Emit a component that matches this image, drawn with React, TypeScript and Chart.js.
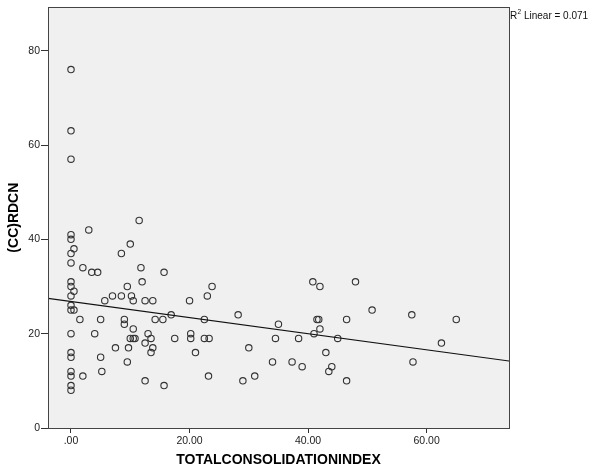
import React, { useEffect, useRef } from 'react';
import { Chart, registerables } from 'chart.js';

Chart.register(...registerables);

// TOTALCONSOLIDATIONINDEX (x) values
const consolidationIndex: number[] = [
  0, 0, 0, 0, 0, 0, 0, 0, 0, 0, 0, 0, 0, 0, 0, 0, 0, 0, 0,
  0.5, 0.5, 0.5,
  3, 11.5, 10, 8.5, 2, 3.5, 4.5, 11.8, 15.7, 12,
  9.5, 7, 8.5, 10.2, 5.7, 10.5, 12.5, 13.8, 20, 16.9,
  1.5, 5, 9, 9, 14.2, 15.5, 10.5, 4, 13, 10,
  10.5, 10.8, 13.5, 17.5, 20.2, 20.2, 12.5, 7.5, 9.7, 13.8,
  13.5, 5, 9.5, 5.2, 2, 12.5, 15.7,
  23.8, 23, 22.5, 28.2, 22.5, 23.3, 21, 30, 23.2, 29,
  31, 35, 34.5, 38.4, 34, 37.3, 39, 40.8, 42, 41,
  41.5, 41.8, 42,
  48, 46.5, 50.8, 57.5, 45, 43, 44, 43.5, 46.5, 57.7, 62.5, 65,
];

// (CC)RDCN (y) values
const rdcn: number[] = [
  76, 63, 57, 41, 40, 37, 35, 31, 30, 28, 26, 25, 20, 16, 15, 12, 11, 9, 8,
  38, 29, 25,
  42, 44, 39, 37, 34, 33, 33, 34, 33, 31,
  30, 28, 28, 28, 27, 27, 27, 27, 27, 24,
  23, 23, 23, 22, 23, 23, 21, 20, 20, 19,
  19, 19, 19, 19, 20, 19, 18, 17, 17, 17,
  16, 15, 14, 12, 11, 10, 9,
  30, 28, 23, 24, 19, 19, 16, 17, 11, 10,
  11, 22, 19, 19, 14, 14, 13, 31, 30, 20,
  23, 23, 21,
  31, 23, 25, 24, 19, 16, 13, 12, 10, 14, 18, 23,
];

// Linear fit line end points
const fitX: number[] = [-3.88, 73.9];
const fitY: number[] = [27.5, 14.2];
const r2Label = 'Linear = 0.071';

const xRange: number[] = [-3.88, 73.9];
const yRange: number[] = [0, 89.2];
const xTicks: number[] = [0, 20, 40, 60];
const xTickLabels: string[] = ['.00', '20.00', '40.00', '60.00'];
const yTicks: number[] = [0, 20, 40, 60, 80];
const yTickLabels: string[] = ['0', '20', '40', '60', '80'];

const FONT = '"Liberation Sans", Arial, Helvetica, sans-serif';

const framePlugin = {
  id: 'spssFrame',
  beforeDraw(chart: any) {
    const { ctx, chartArea } = chart;
    ctx.save();
    ctx.fillStyle = '#ffffff';
    ctx.fillRect(0, 0, chart.width, chart.height);
    ctx.fillStyle = '#f0f0f0';
    ctx.fillRect(chartArea.left, chartArea.top, chartArea.right - chartArea.left, chartArea.bottom - chartArea.top);
    ctx.restore();
  },
  afterDraw(chart: any) {
    const { ctx, chartArea } = chart;
    ctx.save();
    ctx.strokeStyle = '#444444';
    ctx.lineWidth = 1;
    const l = Math.round(chartArea.left) + 0.5;
    const t = Math.round(chartArea.top) + 0.5;
    const r = Math.round(chartArea.right) + 0.5;
    const b = Math.round(chartArea.bottom) + 0.5;
    ctx.strokeRect(l, t, r - l, b - t);
    // R² label
    ctx.fillStyle = '#111111';
    ctx.textBaseline = 'alphabetic';
    ctx.textAlign = 'left';
    let x = r + 0.5;
    const base = 18.5;
    ctx.font = `10px ${FONT}`;
    ctx.fillText('R', x, base);
    x += ctx.measureText('R').width;
    ctx.font = `6.5px ${FONT}`;
    ctx.fillText('2', x + 0.3, base - 4.5);
    x += ctx.measureText('2').width + 0.3;
    ctx.font = `10px ${FONT}`;
    ctx.fillText(' ' + r2Label, x, base);
    ctx.restore();
  },
};

export default function App() {
  const ref = useRef<HTMLCanvasElement>(null);

  useEffect(() => {
    const canvas = ref.current;
    if (!canvas) return;
    const points = consolidationIndex.map((x, i) => ({ x, y: rdcn[i] }));
    const fit = fitX.map((x, i) => ({ x, y: fitY[i] }));
    const chart = new Chart(canvas, {
      type: 'scatter',
      data: {
        datasets: [
          {
            type: 'line',
            data: fit,
            borderColor: '#111111',
            borderWidth: 1.2,
            pointRadius: 0,
            fill: false,
            tension: 0,
          } as any,
          {
            type: 'scatter',
            data: points,
            pointRadius: 3.2,
            pointHoverRadius: 3.2,
            borderWidth: 1.1,
            borderColor: '#333333',
            backgroundColor: 'rgba(0,0,0,0)',
          } as any,
        ],
      },
      options: {
        animation: false,
        responsive: false,
        events: [],
        layout: { padding: { top: 7, right: 81, left: 0, bottom: 0 } },
        plugins: { legend: { display: false }, tooltip: { enabled: false } },
        scales: {
          x: {
            type: 'linear',
            min: xRange[0],
            max: xRange[1],
            afterBuildTicks: (s: any) => {
              s.ticks = xTicks.map((v) => ({ value: v }));
            },
            afterFit: (s: any) => {
              s.height = 44;
            },
            grid: { display: true, drawOnChartArea: false, drawTicks: true, tickLength: 5, color: '#333333', lineWidth: 1 },
            border: { display: false },
            ticks: {
              padding: 2,
              color: '#222222',
              autoSkip: false,
              maxRotation: 0,
              font: { family: FONT, size: 10.5 },
              callback: (v: any) => xTickLabels[xTicks.indexOf(Number(v))] ?? '',
            },
            title: {
              display: true,
              text: 'TOTALCONSOLIDATIONINDEX',
              color: '#000000',
              font: { family: FONT, size: 14, weight: 'bold' },
              padding: { top: 0, bottom: 3 },
            },
          },
          y: {
            type: 'linear',
            min: yRange[0],
            max: yRange[1],
            afterBuildTicks: (s: any) => {
              s.ticks = yTicks.map((v) => ({ value: v }));
            },
            afterFit: (s: any) => {
              s.width = 48;
            },
            grid: { display: true, drawOnChartArea: false, drawTicks: true, tickLength: 7, color: '#333333', lineWidth: 1 },
            border: { display: false },
            ticks: {
              padding: 1,
              color: '#222222',
              autoSkip: false,
              font: { family: FONT, size: 10.5 },
              callback: (v: any) => yTickLabels[yTicks.indexOf(Number(v))] ?? '',
            },
            title: {
              display: true,
              text: '(CC)RDCN',
              color: '#000000',
              font: { family: FONT, size: 14, weight: 'bold' },
              padding: { top: 6, bottom: 0 },
            },
          },
        },
      } as any,
      plugins: [framePlugin],
    });
    return () => chart.destroy();
  }, []);

  return (
    <div style={{ position: 'absolute', left: 0, top: 0, width: 590, height: 472, background: '#ffffff' }}>
      <canvas ref={ref} width={590} height={472} style={{ display: 'block', width: 590, height: 472 }} />
    </div>
  );
}
